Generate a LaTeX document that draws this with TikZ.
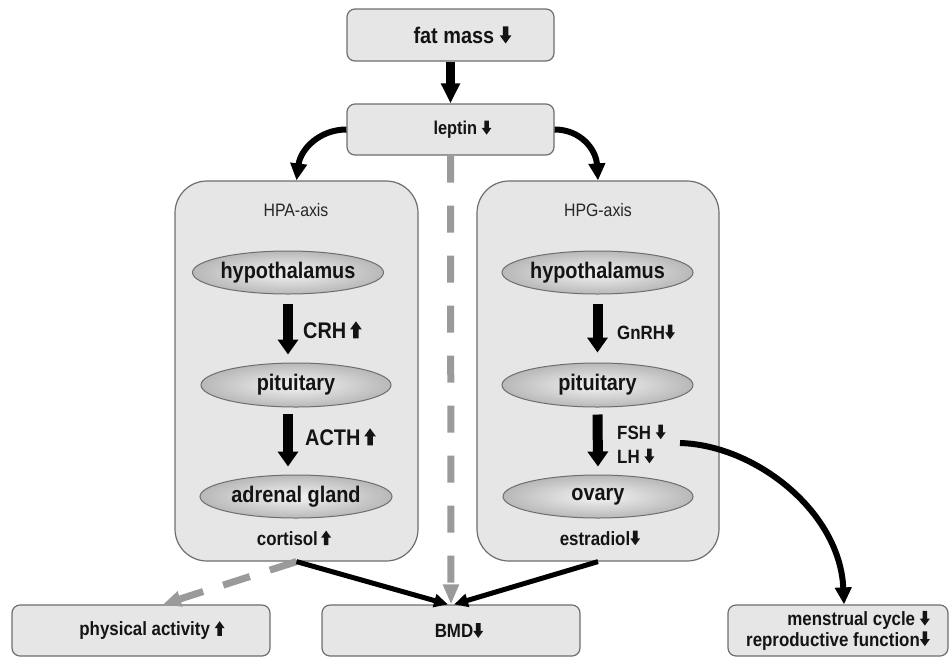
\documentclass[tikz,border=0pt]{standalone}
\usepackage{fontspec}
\setmainfont[FakeStretch=0.88]{Liberation Sans}
\usetikzlibrary{arrows.meta,shapes.geometric,calc}
\definecolor{boxfill}{HTML}{E6E6E6}
\definecolor{boxline}{HTML}{6E6E6E}
\definecolor{dashgray}{HTML}{9A9A9A}
\definecolor{txt}{HTML}{141414}
\definecolor{orgin}{HTML}{F4F4F4}
\definecolor{orgout}{HTML}{B8B8B8}
\newcommand{\mydn}{\tikz[baseline=0pt,x=1em,y=1em,sharp corners,solid]\fill[txt,draw=none] (-0.12,0.76) -- (0.12,0.76) -- (0.12,0.36) -- (0.26,0.36) -- (0,0) -- (-0.26,0.36) -- (-0.12,0.36) -- cycle;}
\newcommand{\myup}{\tikz[baseline=0pt,x=1em,y=1em,sharp corners,solid]\fill[txt,draw=none] (-0.12,0) -- (0.12,0) -- (0.12,0.4) -- (0.26,0.4) -- (0,0.76) -- (-0.26,0.4) -- (-0.12,0.4) -- cycle;}
\begin{document}
\begin{tikzpicture}[x=1pt,y=-1pt,
  box/.style={draw=boxline, fill=boxfill, line width=1.2pt, rounded corners=8pt, inner sep=0pt, text=txt},
  axisbox/.style={box, rounded corners=32pt},
  organ/.style={ellipse, draw=boxline, line width=1pt, inner color=orgin, outer color=orgout, minimum width=191pt, minimum height=43pt, inner sep=0pt, text=txt, font=\fontsize{22.6}{26}\selectfont\bfseries},
  big/.style={font=\fontsize{22.6}{26}\selectfont\bfseries, text=txt, inner sep=0pt},
  small/.style={font=\fontsize{19.2}{22}\selectfont\bfseries, text=txt, inner sep=0pt},
  axislab/.style={font=\fontsize{18}{21}\selectfont, text=black!85, inner sep=0pt},
  bigarrow/.style={line width=10pt, -{Triangle[length=15pt,width=20pt]}},
  fatarrow/.style={line width=9pt, -{Triangle[length=20pt,width=18pt]}},
  curvearrow/.style={line width=6pt, -{Triangle[length=17pt,width=16pt]}},
  blackline/.style={line width=5pt, -{Triangle[length=14pt,width=13pt]}},
  graydash/.style={dashgray, line width=7pt, dash pattern=on 27pt off 23pt, -{Triangle[length=20pt,width=15pt]}},
  graydashb/.style={dashgray, line width=7pt, dash pattern=on 28pt off 21pt, -{Triangle[length=18pt,width=15pt]}}
]
\useasboundingbox (0,0) rectangle (950,657);
% top boxes
\node[box, minimum width=207pt, minimum height=52pt, font=\fontsize{22.6}{26}\selectfont\bfseries] (fat) at (450.5,35) {\hspace*{24pt}fat mass \mydn};
\node[box, minimum width=207pt, minimum height=51pt, font=\fontsize{18.6}{22}\selectfont\bfseries] (lep) at (450.5,129.5) {\hspace*{24pt}leptin \mydn};
% axis boxes
\node[axisbox, minimum width=243pt, minimum height=380pt] (hpa) at (296.5,371) {};
\node[axisbox, minimum width=242pt, minimum height=380pt] (hpg) at (598,371) {};
\node[axislab] (hpalab) at (296,210) {HPA-axis};
\node[axislab] (hpglab) at (598,210) {HPG-axis};
% organs
\node[organ] (hypA) at (288,272.5) {hypothalamus};
\node[organ, minimum width=190pt, minimum height=44pt] (pitA) at (296,385) {pituitary};
\node[organ, minimum width=192pt] (adrA) at (296,496.5) {adrenal gland};
\node[organ] (hypG) at (597.5,272.5) {hypothalamus};
\node[organ, minimum height=44pt] (pitG) at (597.5,385) {pituitary};
\node[organ, minimum width=190pt] (ova) at (598,496.5) {ovary};
% hormone labels
\node[big, anchor=west] (crh) at (303,330) {CRH\,\myup};
\node[big, anchor=west] (acth) at (305,437) {ACTH\,\myup};
\node[small, anchor=west] (gnrh) at (617,332) {GnRH\mydn};
\node[small, anchor=west] (fsh) at (617,432) {FSH \mydn};
\node[small, anchor=west] (lh) at (617,456) {LH \mydn};
\node[small] (cort) at (294,538) {cortisol\,\myup};
\node[small] (estr) at (600,538) {estradiol\mydn};
% bottom boxes
\node[box, minimum width=258pt, minimum height=51pt, font=\fontsize{19.2}{22}\selectfont\bfseries] (phys) at (141,630.5) {\hspace*{22pt}physical activity \myup};
\node[box, minimum width=258pt, minimum height=51pt, font=\fontsize{19.2}{22}\selectfont\bfseries] (bmd) at (451,630.5) {\hspace*{16pt}BMD\mydn};
\node[box, minimum width=220pt, minimum height=51pt, align=right, font=\fontsize{19.2}{20.5}\selectfont\bfseries] (men) at (838,630.5) {menstrual cycle \mydn\\reproductive function\mydn};
% connectors
\draw[fatarrow] (fat.south) -- (lep.north);
\draw[curvearrow] (lep.west) .. controls +(-27,0) and +(4,-31) .. (hpa.north);
\draw[curvearrow] (lep.east) .. controls +(26,0) and +(-2,-31) .. (hpg.north);
\draw[bigarrow, shorten <=9pt, shorten >=8pt] (hypA.south) -- (hypA.south |- pitA.north);
\draw[bigarrow, shorten <=6pt, shorten >=8pt] (hypA.south |- pitA.south) -- (hypA.south |- adrA.north);
\draw[bigarrow, shorten <=9pt, shorten >=10pt] (hypG.south) -- (pitG.north);
\draw[bigarrow, shorten <=7pt, shorten >=8pt] (pitG.south) -- (ova.north);
\coordinate (fshout) at (680,443);
\draw[curvearrow] (fshout) .. controls +(75,2) and +(-4,-93) .. ($(men.north)+(6,0)$);
\draw[graydash] (lep.south) -- (bmd.north);
\draw[graydashb] (hpa.south) -- ($(phys.north)+(22,0)$);
\draw[blackline] (hpa.south) -- ($(bmd.north)+(-3,0)$);
\draw[blackline] (hpg.south) -- ($(bmd.north)+(3,0)$);
\end{tikzpicture}
\end{document}
